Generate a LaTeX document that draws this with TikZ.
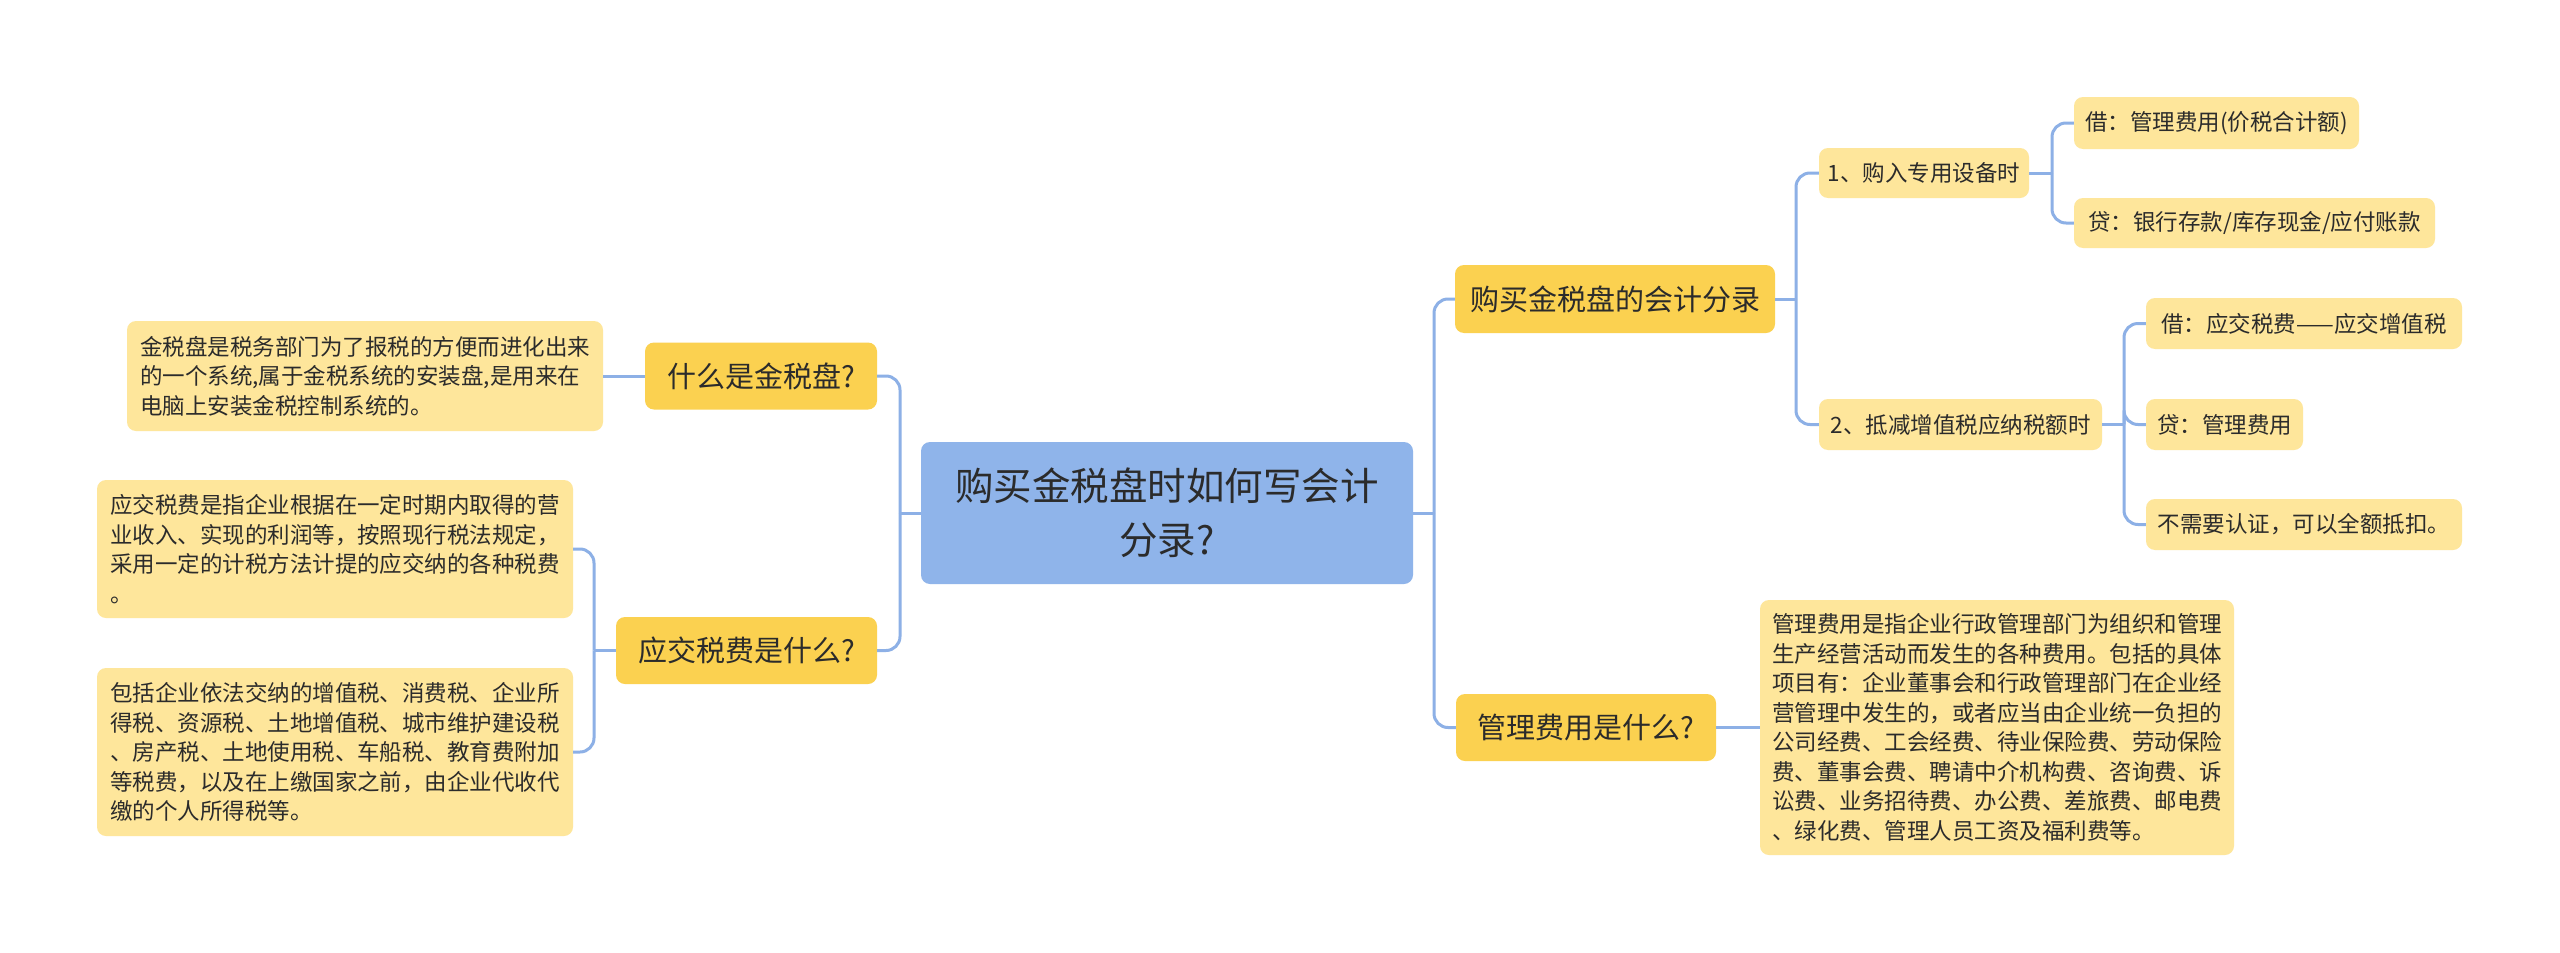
\documentclass[tikz,border=0pt]{standalone}
\usepackage{fontspec}
\setmainfont{Noto Sans CJK SC}
\definecolor{rootblue}{HTML}{8FB4EA}
\definecolor{goldy}{HTML}{FBD150}
\definecolor{paley}{HTML}{FEE69B}
\definecolor{linec}{HTML}{8DB0E6}
\definecolor{txt}{HTML}{2B2B2B}
\begin{document}
\begin{tikzpicture}[x=1pt,y=-1pt,
  box/.style={rounded corners=9pt, inner sep=0pt, text=txt, anchor=center},
  rootbox/.style={box, fill=rootblue, font=\fontsize{38.5}{54}\selectfont, align=center},
  lvl/.style={box, fill=goldy, font=\fontsize{29}{36}\selectfont},
  leaf/.style={box, fill=paley, font=\fontsize{22.5}{29.5}\selectfont},
  desc/.style={leaf, align=left},
  conn/.style={draw=linec, line width=3pt, rounded corners=14pt}]
\useasboundingbox (0,0) rectangle (2560,953);
\fill[white] (0,0) rectangle (2560,953);

% root
\node[rootbox, minimum width=492pt, minimum height=142pt] (root) at (1167,513) {购买金税盘时如何写会计\\分录?};

% left side
\node[lvl, minimum width=232pt, minimum height=67pt] (q1) at (761,376) {什么是金税盘?};
\node[desc, minimum width=476pt, minimum height=110pt] (d1) at (365,376) {金税盘是税务部门为了报税的方便而进化出来\\的一个系统,属于金税系统的安装盘,是用来在\\电脑上安装金税控制系统的。};
\node[lvl, minimum width=261pt, minimum height=67pt] (q2) at (746.5,650.5) {应交税费是什么?};
\node[desc, minimum width=476pt, minimum height=138pt] (d2a) at (335,549) {应交税费是指企业根据在一定时期内取得的营\\业收入、实现的利润等，按照现行税法规定，\\采用一定的计税方法计提的应交纳的各种税费\\。};
\node[desc, minimum width=476pt, minimum height=168pt] (d2b) at (335,752) {包括企业依法交纳的增值税、消费税、企业所\\得税、资源税、土地增值税、城市维护建设税\\、房产税、土地使用税、车船税、教育费附加\\等税费，以及在上缴国家之前，由企业代收代\\缴的个人所得税等。};

% right side
\node[lvl, minimum width=320pt, minimum height=68pt] (r1) at (1615,299) {购买金税盘的会计分录};
\node[leaf, minimum width=210pt, minimum height=50pt] (a1) at (1924,173) {1、购入专用设备时};
\node[leaf, minimum width=285pt, minimum height=52pt] (a1a) at (2216.5,123) {借：管理费用(价税合计额)};
\node[leaf, minimum width=361pt, minimum height=50pt] (a1b) at (2254.5,223) {贷：银行存款/库存现金/应付账款};
\node[leaf, minimum width=283pt, minimum height=51pt] (a2) at (1960.5,424.5) {2、抵减增值税应纳税额时};
\node[leaf, minimum width=316pt, minimum height=51pt] (a2a) at (2304,323.5) {借：应交税费——应交增值税};
\node[leaf, minimum width=157pt, minimum height=51pt] (a2b) at (2224.5,424.5) {贷：管理费用};
\node[leaf, minimum width=316pt, minimum height=51pt] (a2c) at (2304,524.5) {不需要认证，可以全额抵扣。};
\node[lvl, minimum width=260pt, minimum height=67pt] (r2) at (1586,727.5) {管理费用是什么?};
\node[desc, minimum width=474pt, minimum height=255pt] (r2d) at (1997,727.5) {管理费用是指企业行政管理部门为组织和管理\\生产经营活动而发生的各种费用。包括的具体\\项目有：企业董事会和行政管理部门在企业经\\营管理中发生的，或者应当由企业统一负担的\\公司经费、工会经费、待业保险费、劳动保险\\费、董事会费、聘请中介机构费、咨询费、诉\\讼费、业务招待费、办公费、差旅费、邮电费\\、绿化费、管理人员工资及福利费等。};

% junctions
\coordinate (jL) at (900,513);
\coordinate (jQ2) at (594,650.5);
\coordinate (jR) at (1434,513);
\coordinate (jR1) at (1796,299);
\coordinate (jA1) at (2052,173);
\coordinate (jA2) at (2124,424.5);

% connectors
\draw[conn] (root.west) -- (jL);
\draw[conn] (jL) |- (q1.east);
\draw[conn] (jL) |- (q2.east);
\draw[conn] (q1.west) -- (d1.east);
\draw[conn] (q2.west) -- (jQ2);
\draw[conn] (jQ2) |- (d2a.east);
\draw[conn] (jQ2) |- (d2b.east);

\draw[conn] (root.east) -- (jR);
\draw[conn] (jR) |- (r1.west);
\draw[conn] (jR) |- (r2.west);
\draw[conn] (r1.east) -- (jR1);
\draw[conn] (jR1) |- (a1.west);
\draw[conn] (jR1) |- (a2.west);
\draw[conn] (a1.east) -- (jA1);
\draw[conn] (jA1) |- (a1a.west);
\draw[conn] (jA1) |- (a1b.west);
\draw[conn] (a2.east) -- (jA2);
\draw[conn] (jA2) |- (a2a.west);
\draw[conn] (jA2) |- (a2b.west);
\draw[conn] (jA2) |- (a2c.west);
\draw[conn] (r2.east) -- (r2d.west);
\end{tikzpicture}
\end{document}
